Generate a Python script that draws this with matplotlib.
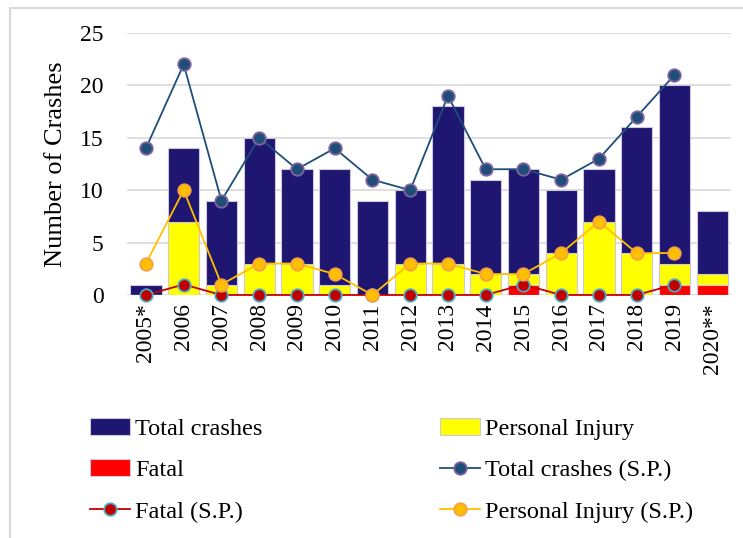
import numpy as np
import matplotlib.pyplot as plt
from matplotlib.patches import Rectangle

years = ['2005*', '2006', '2007', '2008', '2009', '2010', '2011', '2012', '2013',
         '2014', '2015', '2016', '2017', '2018', '2019', '2020**']
total = [1, 14, 9, 15, 12, 12, 9, 10, 18, 11, 12, 10, 12, 16, 20, 8]
injury = [0, 7, 1, 3, 3, 1, 0, 3, 3, 2, 2, 4, 7, 4, 3, 2]
fatal = [0, 0, 0, 0, 0, 0, 0, 0, 0, 0, 1, 0, 0, 0, 1, 1]

# S.P. series stop at 2019
total_sp = [14, 22, 9, 15, 12, 14, 11, 10, 19, 12, 12, 11, 13, 17, 21]
fatal_sp = [0, 1, 0, 0, 0, 0, 0, 0, 0, 0, 1, 0, 0, 0, 1]
injury_sp = [3, 10, 1, 3, 3, 2, 0, 3, 3, 2, 2, 4, 7, 4, 4]

plt.rcParams['font.family'] = 'Liberation Serif'
fig = plt.figure(figsize=(7.43, 5.38), dpi=100)
ax = fig.add_axes([0.171, 0.4517, 0.813, 0.487])

x = np.arange(len(years))
xs = np.arange(len(total_sp))
w = 0.83
edge = '#cfc8dc'
b1 = ax.bar(x, total, w, color='#1e1671', edgecolor=edge, lw=0.8, zorder=2, label='Total crashes')
b2 = ax.bar(x, injury, w, color='#ffff00', edgecolor=edge, lw=0.8, zorder=3, label='Personal Injury')
b3 = ax.bar(x, fatal, w, color='#ff0000', edgecolor=edge, lw=0.8, zorder=4, label='Fatal')

l1, = ax.plot(xs, total_sp, color='#1f4e79', lw=1.3, marker='o', ms=9,
              mfc='#1f4e79', mec='#8064a2', mew=1.3, zorder=5, clip_on=False,
              label='Total crashes (S.P.)')
l2, = ax.plot(xs, fatal_sp, color='#c00000', lw=1.3, marker='o', ms=9,
              mfc='#c00000', mec='#4bacc6', mew=1.3, zorder=6, clip_on=False,
              label='Fatal (S.P.)')
l3, = ax.plot(xs, injury_sp, color='#ffc000', lw=1.3, marker='o', ms=9,
              mfc='#ffc000', mec='#f7a046', mew=1.3, zorder=7, clip_on=False,
              label='Personal Injury (S.P.)')

ax.set_xlim(-0.5, len(years) - 0.5)
ax.set_ylim(0, 25)
ax.set_yticks([0, 5, 10, 15, 20, 25])
ax.set_xticks(x)
ax.set_xticklabels(years, rotation=90)
ax.tick_params(axis='both', length=0, labelsize=17)
ax.tick_params(axis='y', pad=17)
ax.tick_params(axis='x', pad=6)
ax.grid(axis='y', color='#d9d9d9', lw=1.2, zorder=0)
for s in ax.spines.values():
    s.set_visible(False)
ax.set_ylabel('Number of Crashes', fontsize=19)
ax.yaxis.set_label_coords(-0.1, 0.5)

handles = [b1, b3, l2, b2, l1, l3]
labels = [h.get_label() for h in handles]
fig.legend(handles, labels, ncol=2, loc='upper left',
           bbox_to_anchor=(90 / 743, 1 - 418 / 538), frameon=False,
           fontsize=17.5, handlelength=1.65, handletextpad=0.2,
           labelspacing=0.8, columnspacing=7.3, borderpad=0, borderaxespad=0)

fig.patches.append(Rectangle((10 / 743, -0.1), 1.2, 1 - 8 / 538 + 0.1,
                             transform=fig.transFigure, fill=False,
                             edgecolor='#d9d9d9', lw=1.5, zorder=0))

fig.savefig('out.png', dpi=100)
